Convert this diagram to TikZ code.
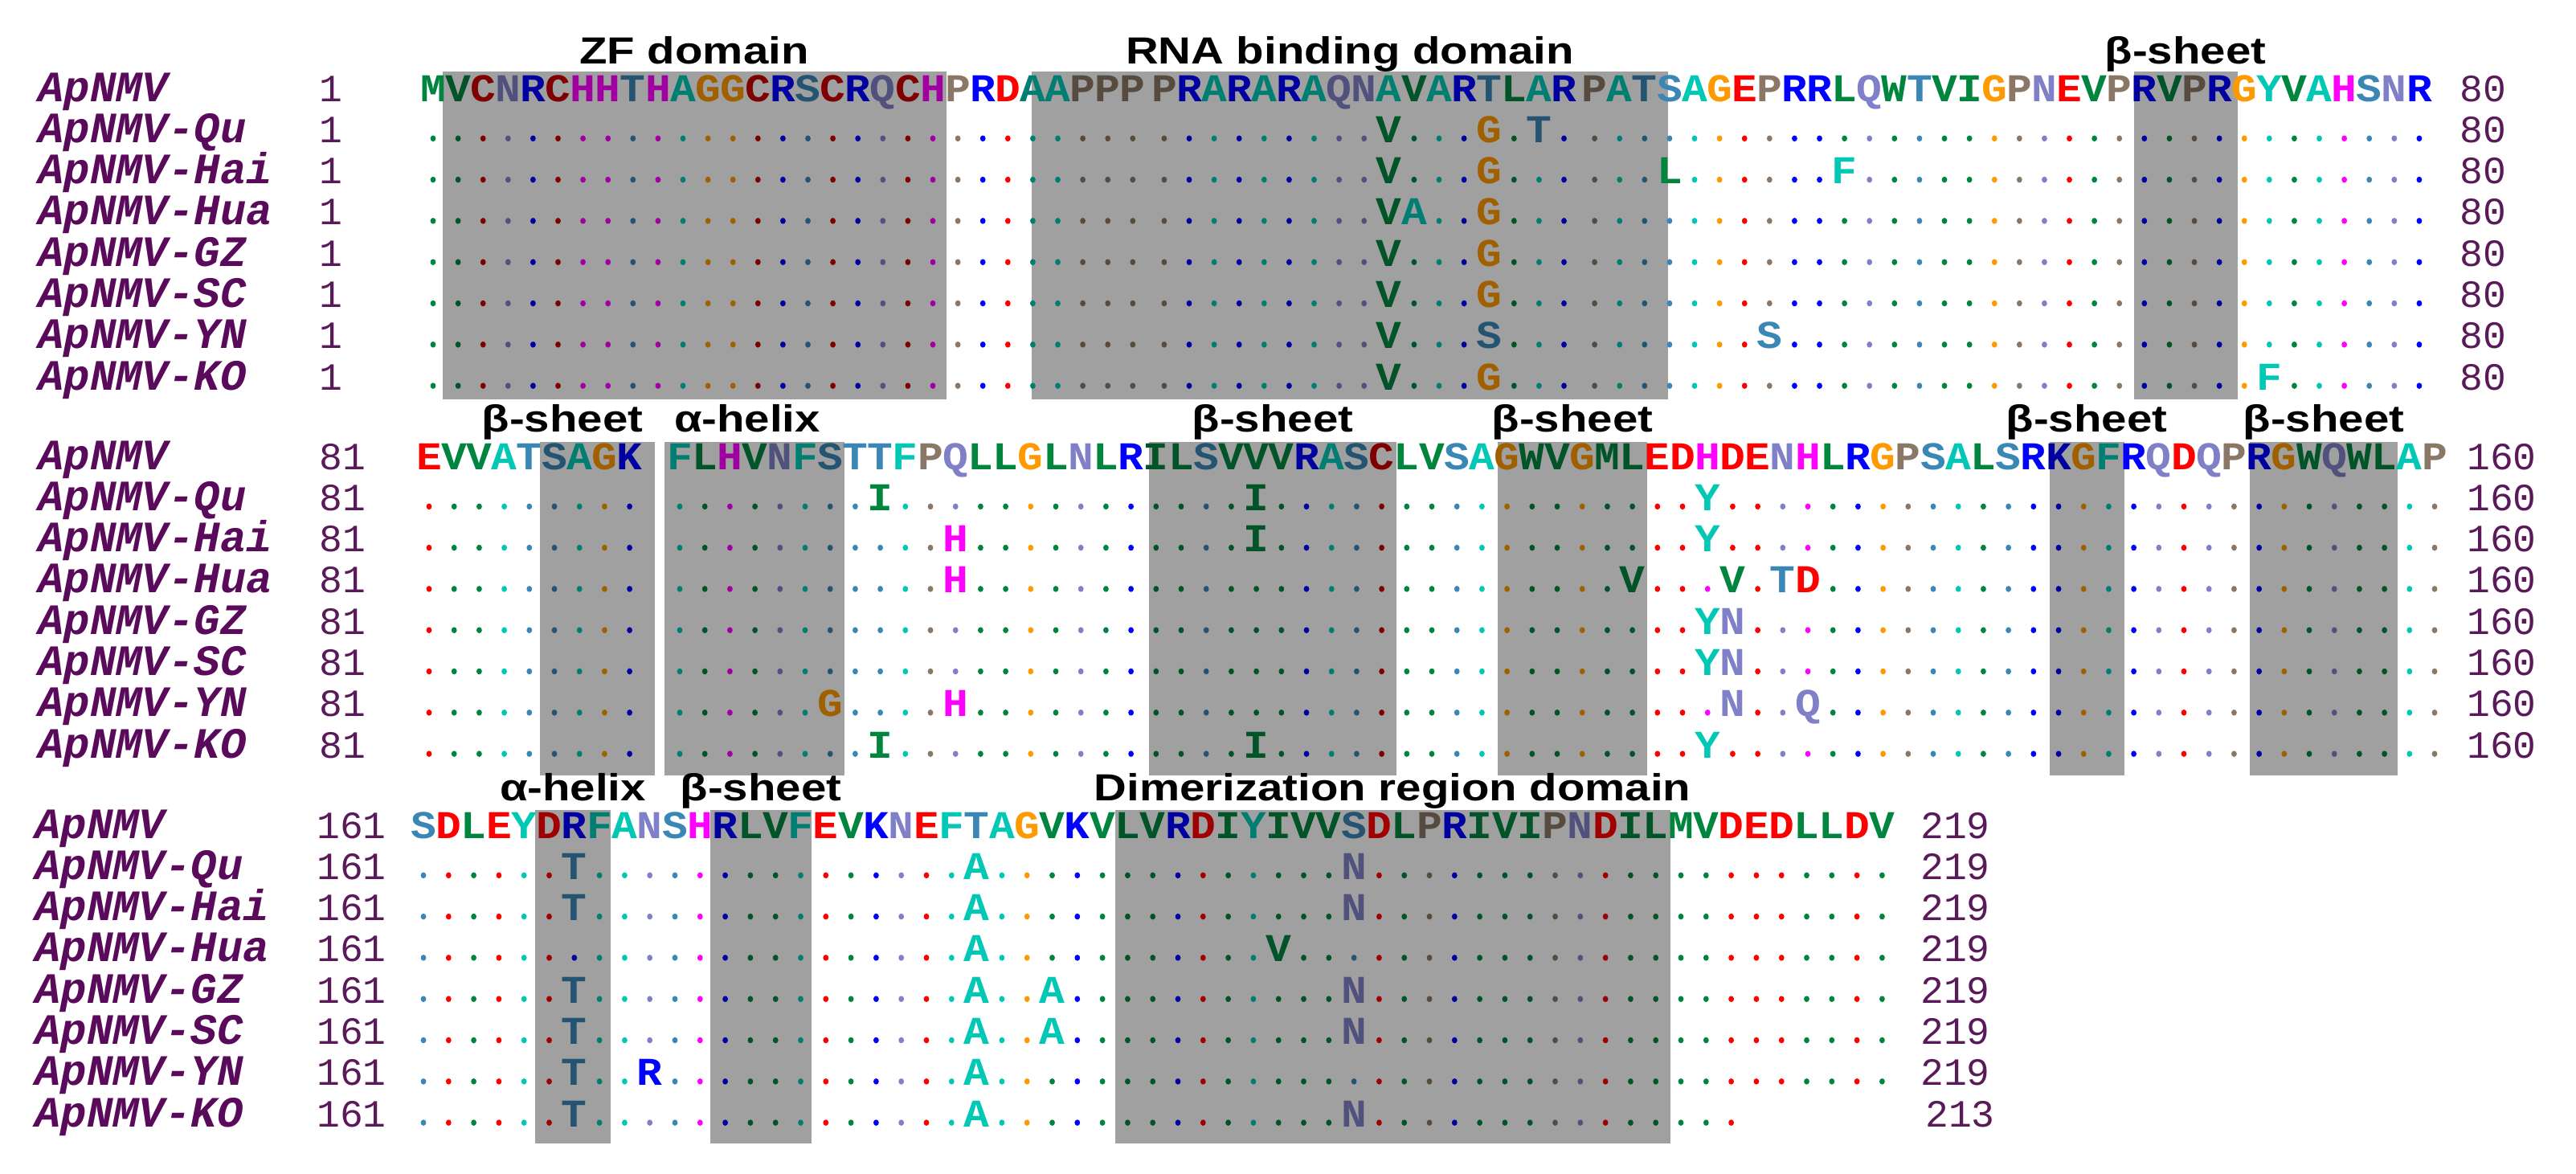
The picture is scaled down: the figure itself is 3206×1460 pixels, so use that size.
\documentclass[tikz,border=0pt]{standalone}
\usepackage{fontspec}
\setmainfont{Liberation Sans}
\newfontfamily\monoff{Liberation Mono}
\ExplSyntaxOn
\cs_new:Npn \strItem #1#2 { \str_item:Nn #1 {#2} }
\ExplSyntaxOff
% residue colours
\definecolor{aaA}{HTML}{00C8B4}\colorlet{aaF}{aaA}\colorlet{aaY}{aaA}
\definecolor{aaR}{HTML}{0000FF}\colorlet{aaK}{aaR}
\definecolor{aaN}{HTML}{8080C8}\colorlet{aaQ}{aaN}
\definecolor{aaD}{HTML}{FF0000}\colorlet{aaE}{aaD}\definecolor{aaC}{HTML}{C80000}
\definecolor{aaG}{HTML}{FF9900}
\definecolor{aaH}{HTML}{FF00FF}
\definecolor{aaI}{HTML}{00853E}\colorlet{aaL}{aaI}\colorlet{aaM}{aaI}\colorlet{aaV}{aaI}\colorlet{aaW}{aaI}
\definecolor{aaP}{HTML}{8B7765}
\definecolor{aaS}{HTML}{3A86B5}\colorlet{aaT}{aaS}
\foreach \c in {A,F,Y,R,K,N,Q,D,E,C,G,H,I,L,M,V,W,P,S,T}{\xglobal\colorlet{aa\c d}{aa\c!63!black}}
\definecolor{boxgray}{HTML}{A0A0A0}
\definecolor{namec}{HTML}{5A0A5A}
\definecolor{numc}{HTML}{5A1A5A}
\tikzset{
  seq/.style={anchor=base,inner sep=0pt,font=\monoff\bfseries\fontsize{49}{49}\selectfont},
  nm/.style={anchor=base west,inner sep=0pt,text=namec,font=\monoff\bfseries\itshape\fontsize{54}{54}\selectfont},
  num/.style={anchor=base west,inner sep=0pt,text=numc,font=\monoff\fontsize{48}{48}\selectfont},
  ttl/.style={anchor=base,inner sep=0pt,font=\bfseries\fontsize{47}{47}\selectfont},
  bx/.style={fill=boxgray,draw=none}
}
\newcommand\chkbox[1]{\gdef\inb{0}\foreach \a/\b in \boxes {\ifnum#1<\a\relax\else\ifnum#1>\b\relax\else\gdef\inb{1}\fi\fi}}
\newcommand\setvars[3]{\foreach \p/\c in {#3}{\expandafter\xdef\csname var-#1-#2-\p\endcsname{\c}}}
\newcommand\seqrow[3]{%
\foreach \i in {1,...,#3}{%
  \edef\rc{\strItem\refseq{\i}}%
  \if\rc-\else
  \chkbox{\i}%
  \edef\cn{aa\rc\ifnum\inb=1 d\fi}%
  \pgfmathsetmacro\xx{\xo+\pitch*(\i-1)+8*(\i>\gA)+7*(\i>\gB)}%
  \ifnum#1=0
    \node[seq,text=\cn] (c\blk-#1-\i) at (\xx,#2) {\scalebox{1.08}[1]{\rc}};
  \else
    \ifcsname var-\blk-#1-\i\endcsname
      \edef\vc{\csname var-\blk-#1-\i\endcsname}%
      \edef\vn{aa\vc\ifnum\inb=1 d\fi}%
      \node[seq,text=\vn] (c\blk-#1-\i) at (\xx,#2) {\scalebox{1.08}[1]{\vc}};
    \else
      \fill[\cn] (\xx,#2-5) ellipse (3.4 and 3.8);
    \fi
  \fi
  \fi}}
\newcommand\names[3]{% block, x, yh
 \foreach \k/\n in {0/ApNMV,1/ApNMV-Qu,2/ApNMV-Hai,3/ApNMV-Hua,4/ApNMV-GZ,5/ApNMV-SC,6/ApNMV-YN,7/ApNMV-KO}{
  \node[nm] (nm#1-\k) at (#2,#3+51.3*\k) {\n};}}
\begin{document}
\begin{tikzpicture}[x=1pt,y=-1pt]
\useasboundingbox (0,0) rectangle (3206,1460);
% ---------- boxes
\foreach \a/\b in {551/1178,1284/2076,2656/2785}{\fill[bx] (\a,89) rectangle (\b,497);}
\foreach \a/\b in {672/815,827/1051,1430/1738,1864/2050,2551/2644,2800/2984}{\fill[bx] (\a,550) rectangle (\b,965);}
\foreach \a/\b in {666/760,884/1010,1388/2079}{\fill[bx] (\a,1008) rectangle (\b,1423);}
% ---------- titles
\node[ttl] (t1) at (864,79) {\scalebox{1.2}[1]{ZF domain}};
\node[ttl] (t2) at (1680,79) {\scalebox{1.2}[1]{RNA binding domain}};
\node[ttl] (t3) at (2720,79) {\scalebox{1.2}[1]{β-sheet}};
\node[ttl] (t4) at (700,537) {\scalebox{1.2}[1]{β-sheet}};
\node[ttl] (t5) at (930,537) {\scalebox{1.2}[1]{α-helix}};
\node[ttl] (t6) at (1584,537) {\scalebox{1.2}[1]{β-sheet}};
\node[ttl] (t7) at (1957,537) {\scalebox{1.2}[1]{β-sheet}};
\node[ttl] (t8) at (2597,537) {\scalebox{1.2}[1]{β-sheet}};
\node[ttl] (t9) at (2892,537) {\scalebox{1.2}[1]{β-sheet}};
\node[ttl] (t10) at (713,996) {\scalebox{1.2}[1]{α-helix}};
\node[ttl] (t11) at (947,996) {\scalebox{1.2}[1]{β-sheet}};
\node[ttl] (t12) at (1733,996) {\scalebox{1.2}[1]{Dimerization region domain}};
% ---------- names and numbers
\names{1}{47}{126}\names{2}{47}{584}\names{3}{43}{1043}
\foreach \k in {0,...,7}{
  \node[num] (s1-\k) at (397,126+51.3*\k) {1};
  \node[num] (e1-\k) at (3061,126+51.3*\k) {80};
  \node[num] (s2-\k) at (397,584+51.3*\k) {81};
  \node[num] (e2-\k) at (3070,584+51.3*\k) {160};
  \node[num] (s3-\k) at (394,1043+51.3*\k) {161};}
\foreach \k in {0,...,6}{\node[num] (e3-\k) at (2390,1043+51.3*\k) {219};}
\node[num] (e3-7) at (2396,1043+51.3*7) {213};
% ---------- variants
\setvars{1}{1}{39/V,43/G,45/T}
\setvars{1}{2}{39/V,43/G,50/L,57/F}
\setvars{1}{3}{39/V,40/A,43/G}
\setvars{1}{4}{39/V,43/G}
\setvars{1}{5}{39/V,43/G}
\setvars{1}{6}{39/V,43/S,54/S}
\setvars{1}{7}{39/V,43/G,74/F}
\setvars{2}{1}{19/I,34/I,52/Y}
\setvars{2}{2}{22/H,34/I,52/Y}
\setvars{2}{3}{22/H,49/V,53/V,55/T,56/D}
\setvars{2}{4}{52/Y,53/N}
\setvars{2}{5}{52/Y,53/N}
\setvars{2}{6}{17/G,22/H,53/N,56/Q}
\setvars{2}{7}{19/I,34/I,52/Y}
\setvars{3}{1}{7/T,23/A,38/N}
\setvars{3}{2}{7/T,23/A,38/N}
\setvars{3}{3}{23/A,35/V}
\setvars{3}{4}{7/T,23/A,26/A,38/N}
\setvars{3}{5}{7/T,23/A,26/A,38/N}
\setvars{3}{6}{7/T,10/R,23/A}
\setvars{3}{7}{7/T,23/A,38/N}
% ---------- block 1
\def\blk{1}\def\refseq{MVCNRCHHTHAGGCRSCRQCHPRDAAPPPPRARARAQNAVARTLARPATSAGEPRRLQWTVIGPNEVPRVPRGYVAHSNR}
\def\xo{539}\def\pitch{31.1}\def\gA{29}\def\gB{46}\def\boxes{2/21,25/49,69/72}
\foreach \k in {0,...,7}{\pgfmathsetmacro\yy{126+51.3*\k}\seqrow{\k}{\yy}{80}}
% ---------- block 2
\def\blk{2}\def\refseq{EVVATSAGK-FLHVNFSTTFPQLLGLNLRILSVVVRASCLVSAGWVGMLEDHDENHLRGPSALSRKGFRQDQPRGWQWLAP}
\def\xo{534}\def\pitch{31.2}\def\gA{999}\def\gB{999}\def\boxes{6/9,11/17,30/39,44/49,66/68,74/79}
\foreach \k in {0,...,7}{\pgfmathsetmacro\yy{584+51.3*\k}\seqrow{\k}{\yy}{81}}
% ---------- block 3
\def\blk{3}\def\refseq{SDLEYDRFANSHRLVFEVKNEFTAGVKVLVRDIYIVVSDLPRIVIPNDILMVDEDLLDV}
\def\xo{527}\def\pitch{31.3}\def\gA{999}\def\gB{999}\def\boxes{6/8,13/16,29/50}
\foreach \k in {0,...,6}{\pgfmathsetmacro\yy{1043+51.3*\k}\seqrow{\k}{\yy}{59}}
\seqrow{7}{1402.1}{53}
\end{tikzpicture}
\end{document}
